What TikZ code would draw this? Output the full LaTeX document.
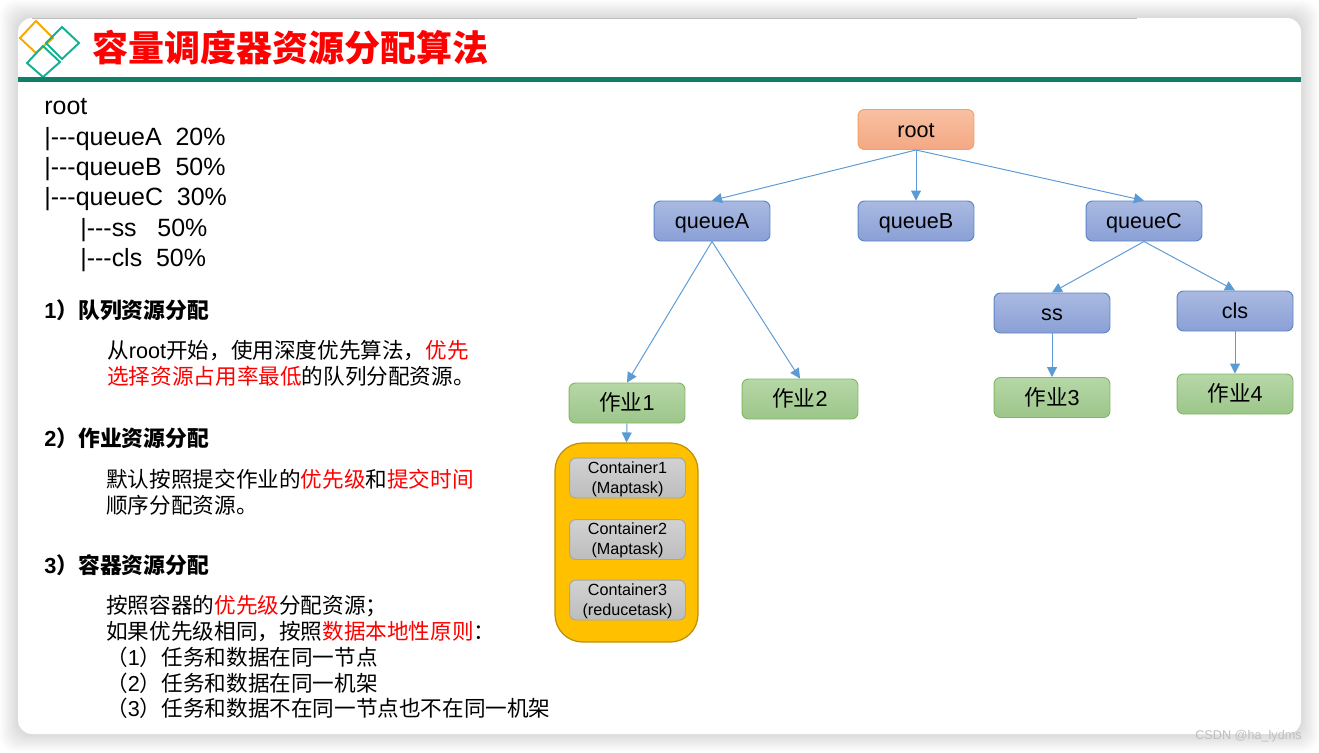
\documentclass[tikz,border=0pt]{standalone}
\usepackage{fontspec}
\setmainfont{Liberation Sans}
\newfontfamily\cjk{Noto Sans CJK SC}
\usetikzlibrary{arrows.meta}
\definecolor{tealbar}{HTML}{0F7F6A}
\definecolor{tealmark}{HTML}{13B092}
\definecolor{orangemark}{HTML}{F5A800}
\definecolor{arrowblue}{HTML}{5B9BD5}
\definecolor{roottop}{HTML}{F8C0A3}
\definecolor{rootbot}{HTML}{F4A883}
\definecolor{rootline}{HTML}{F4A166}
\definecolor{queuetop}{HTML}{A9B9E1}
\definecolor{queuebot}{HTML}{8AA0D5}
\definecolor{queueline}{HTML}{5B85C8}
\definecolor{jobtop}{HTML}{B6D7A6}
\definecolor{jobbot}{HTML}{9CC68A}
\definecolor{jobline}{HTML}{82B864}
\definecolor{conttop}{HTML}{D2D2D2}
\definecolor{contbot}{HTML}{BDBDBD}
\definecolor{poolfill}{HTML}{FFC000}
\definecolor{poolline}{HTML}{BF9000}
\newcommand{\hl}[1]{\textcolor{red}{#1}}
\newcommand{\contline}{\rule{0pt}{8.1pt}}
\tikzset{
    treebox/.style={draw, rounded corners=0.13cm, minimum width=2.32cm, minimum height=0.8cm, inner sep=0pt, line width=0.55pt, font=\fontsize{12.3}{14}\selectfont, text height=8.7pt, text depth=0pt},
    rootbox/.style={treebox, draw=rootline, top color=roottop, bottom color=rootbot},
    queuebox/.style={treebox, draw=queueline, top color=queuetop, bottom color=queuebot},
    jobbox/.style={treebox, draw=jobline, top color=jobtop, bottom color=jobbot},
    contbox/.style={draw=black!35, rounded corners=0.13cm, minimum width=2.32cm, minimum height=0.8cm, inner sep=0pt, line width=0.55pt, align=center, top color=conttop, bottom color=contbot, font=\fontsize{9.2}{11.4}\selectfont},
    listline/.style={anchor=base west, inner sep=0pt, font=\fontsize{14.2}{17}\selectfont},
    headline/.style={anchor=base west, inner sep=0pt, font=\fontsize{12.4}{15}\selectfont\bfseries},
    bodyline/.style={anchor=base west, inner sep=0pt, font=\fontsize{12.3}{15}\selectfont},
    arrowline/.style={-{Triangle[length=0.2cm,width=0.2cm]}, draw=arrowblue, line width=0.55pt}
}
\begin{document}
\begin{tikzpicture}[x=0.02cm, y=-0.02cm]
    \useasboundingbox (0,0) rectangle (1319,752);

    %slide and its soft edge
        \foreach \r in {1,...,18}{
            \fill[black, opacity=0.009, rounded corners=0.3cm] (18-\r,18-\r) rectangle (1301+\r,734+\r);
        }
        \fill[white, rounded corners=0.28cm] (18,18) rectangle (1301,734);
        \draw[black!25, line width=0.6pt] (32,18.5) -- (1137,18.5);

    %title bar
        \draw[orangemark, line width=1.1pt] (20,38) -- (36,21) -- (53,38) -- (36,53) -- cycle;
        \draw[tealmark, line width=1.1pt] (46,43) -- (62,27) -- (79,43) -- (62,59) -- cycle;
        \draw[tealmark, line width=1.1pt] (27,63) -- (43,46) -- (60,62) -- (43,77) -- cycle;
        \fill[tealbar] (18,77) rectangle (1301,82);
        \node[anchor=base west, inner sep=0pt, text=red, font=\fontsize{20.5}{24}\selectfont\cjk\bfseries] (title) at (92,61) {容量调度器资源分配算法};

    %queue list
        \node[listline] (listroot) at (44,114) {root};
        \node[listline] (lista) at (44,145) {|{-}{-}{-}queueA\ \ 20\%};
        \node[listline] (listb) at (44,175) {|{-}{-}{-}queueB\ \ 50\%};
        \node[listline] (listc) at (44,205) {|{-}{-}{-}queueC\ \ 30\%};
        \node[listline] (listss) at (80,236) {|{-}{-}{-}ss\ \ \ 50\%};
        \node[listline] (listcls) at (80,266) {|{-}{-}{-}cls\ \ 50\%};

    %three paragraphs
        \node[headline] (headone) at (44,318) {1{\cjk ）队列资源分配}};
        \node[bodyline] (bodyonea) at (107,358) {{\cjk 从}root{\cjk 开始，使用深度优先算法，\hl{优先}}};
        \node[bodyline] (bodyoneb) at (107,384) {\cjk \hl{选择资源占用率最低}的队列分配资源。};
        \node[headline] (headtwo) at (44,446) {2{\cjk ）作业资源分配}};
        \node[bodyline] (bodytwoa) at (106,487) {\cjk 默认按照提交作业的\hl{优先级}和\hl{提交时间}};
        \node[bodyline] (bodytwob) at (106,513) {\cjk 顺序分配资源。};
        \node[headline] (headthree) at (44,573) {3{\cjk ）容器资源分配}};
        \node[bodyline] (bodythreea) at (106,613) {\cjk 按照容器的\hl{优先级}分配资源；};
        \node[bodyline] (bodythreeb) at (106,639) {\cjk 如果优先级相同，按照\hl{数据本地性原则}：};
        \node[bodyline] (bodythreec) at (106,665) {{\cjk （}1{\cjk ）任务和数据在同一节点}};
        \node[bodyline] (bodythreed) at (106,691) {{\cjk （}2{\cjk ）任务和数据在同一机架}};
        \node[bodyline] (bodythreee) at (106,716) {{\cjk （}3{\cjk ）任务和数据不在同一节点也不在同一机架}};

    %tree
        \node[rootbox] (root) at (916,129.5) {root};
        \node[queuebox] (queueA) at (712,221) {queueA};
        \node[queuebox] (queueB) at (916,221) {queueB};
        \node[queuebox] (queueC) at (1144,221) {queueC};
        \node[queuebox] (ss) at (1052,313) {ss};
        \node[queuebox] (cls) at (1235,311) {cls};
        \node[jobbox] (jobone) at (627,403) {{\cjk 作业}1};
        \node[jobbox] (jobtwo) at (800,399) {{\cjk 作业}2};
        \node[jobbox] (jobthree) at (1052,397.5) {{\cjk 作业}3};
        \node[jobbox] (jobfour) at (1235,394) {{\cjk 作业}4};

    %containers
        \node[draw=poolline, fill=poolfill, line width=0.7pt, rounded corners=0.55cm, minimum width=2.86cm, minimum height=3.98cm] (pool) at (626.5,542.5) {};
        \node[contbox] (contone) at (627.5,478) {\contline Container1\\(Maptask)};
        \node[contbox] (conttwo) at (627.5,539.5) {\contline Container2\\(Maptask)};
        \node[contbox] (contthree) at (627.5,600) {\contline Container3\\(reducetask)};

    %arrows
        \draw[arrowline] (root.south) -- (queueA.north);
        \draw[arrowline] (root.south) -- (queueB.north);
        \draw[arrowline] (root.south) -- (queueC.north);
        \draw[arrowline] (queueA.south) -- (jobone.north);
        \draw[arrowline] (queueA.south) -- (jobtwo.north);
        \draw[arrowline] (queueC.south) -- (ss.north);
        \draw[arrowline] (queueC.south) -- (cls.north);
        \draw[arrowline] (ss.south) -- (jobthree.north);
        \draw[arrowline] (cls.south) -- (jobfour.north);
        \draw[arrowline] (jobone.south) -- (pool.north);

        \node[anchor=base west, inner sep=0pt, text=black!25, font=\fontsize{7.2}{9}\selectfont] (watermark) at (1195,739) {CSDN @ha\_lydms};
\end{tikzpicture}
\end{document}
